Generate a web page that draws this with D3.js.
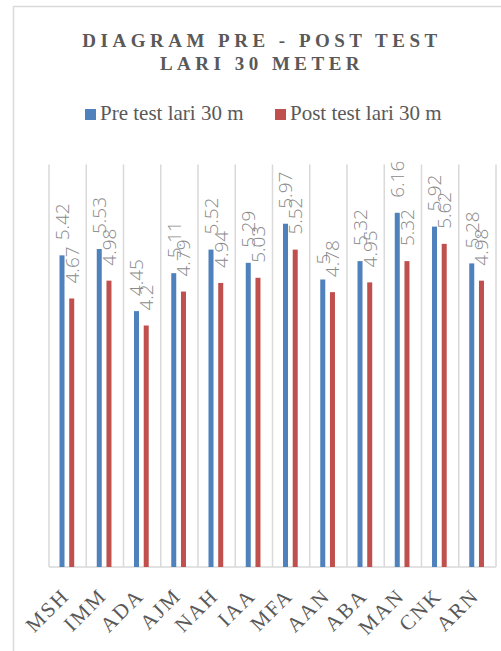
<!DOCTYPE html>
<html>
<head>
<meta charset="utf-8">
<script src="https://cdn.jsdelivr.net/npm/d3@7"></script>
<style>
  html, body { margin: 0; padding: 0; background: #ffffff; }
  svg { display: block; }
</style>
</head>
<body>
<svg id="chart" width="501" height="651"></svg>
<script>
// Participants (initials)
const categories = ["MSH", "IMM", "ADA", "AJM", "NAH", "IAA", "MFA", "AAN", "ABA", "MAN", "CNK", "ARN"];
// Series names
const seriesNames = ["Pre test lari 30 m", "Post test lari 30 m"];
// 30 m sprint times (seconds)
const preTest  = [5.42, 5.53, 4.45, 5.11, 5.52, 5.29, 5.97, 5, 5.32, 6.16, 5.92, 5.28];
const postTest = [4.67, 4.98, 4.2, 4.79, 4.94, 5.03, 5.52, 4.78, 4.95, 5.32, 5.62, 4.98];
const seriesColors = ["#4f81bd", "#c0504d"];
const titleLines = ["DIAGRAM PRE - POST TEST", "LARI 30 METER"];
const yDomain = [0, 7];

const svg = d3.select("#chart");
const textGray = "#595959";
const gridGray = "#d9d9d9";

// Outer chart frame
svg.append("rect")
  .attr("x", 13.5).attr("y", 6.5)
  .attr("width", 520).attr("height", 700)
  .attr("fill", "none")
  .attr("stroke", gridGray)
  .attr("stroke-width", 1.5);

// Title
const title = svg.append("text")
  .attr("text-anchor", "middle")
  .attr("font-family", "'Liberation Serif', 'Times New Roman', serif")
  .attr("font-weight", "bold")
  .attr("font-size", 19)
  .attr("letter-spacing", 4.5)
  .attr("fill", textGray);
title.selectAll("tspan").data(titleLines).join("tspan")
  .attr("x", 262)
  .attr("y", (d, i) => 47 + i * 23)
  .text(d => d);

// Legend
const legendItems = [
  { name: seriesNames[0], color: seriesColors[0], x: 85 },
  { name: seriesNames[1], color: seriesColors[1], x: 275 }
];
const legend = svg.append("g");
const li = legend.selectAll("g").data(legendItems).join("g")
  .attr("transform", d => `translate(${d.x},0)`);
li.append("rect")
  .attr("x", 0).attr("y", 109)
  .attr("width", 11).attr("height", 11)
  .attr("fill", d => d.color);
li.append("text")
  .attr("x", 15).attr("y", 120)
  .attr("font-family", "'Liberation Serif', 'Times New Roman', serif")
  .attr("font-size", 21)
  .attr("fill", textGray)
  .text(d => d.name);

// Plot area
const plot = { left: 49, right: 496, top: 164.5, bottom: 567 };

const x0 = d3.scaleBand()
  .domain(categories)
  .range([plot.left, plot.right])
  .paddingInner(0).paddingOuter(0);

const bw = x0.bandwidth();
const x1 = d3.scaleBand()
  .domain(seriesNames)
  .range([bw * 0.282, bw * 0.677])
  .paddingInner(0.485).paddingOuter(0);

const y = d3.scaleLinear().domain(yDomain).range([plot.bottom, plot.top]);

// Vertical category gridlines
const gridX = categories.map(c => x0(c)).concat([plot.right]);
svg.append("g").selectAll("line").data(gridX).join("line")
  .attr("x1", d => d).attr("x2", d => d)
  .attr("y1", y(yDomain[1])).attr("y2", plot.bottom)
  .attr("stroke", gridGray)
  .attr("stroke-width", 1.5);

// Baseline
svg.append("line")
  .attr("x1", plot.left).attr("x2", plot.right)
  .attr("y1", plot.bottom).attr("y2", plot.bottom)
  .attr("stroke", gridGray)
  .attr("stroke-width", 1.5);

// Bars
const rows = categories.map((c, i) => ({
  cat: c,
  vals: [
    { s: seriesNames[0], v: preTest[i], color: seriesColors[0] },
    { s: seriesNames[1], v: postTest[i], color: seriesColors[1] }
  ]
}));

const groups = svg.append("g").selectAll("g").data(rows).join("g")
  .attr("transform", d => `translate(${x0(d.cat)},0)`);

groups.selectAll("rect").data(d => d.vals).join("rect")
  .attr("x", d => x1(d.s))
  .attr("width", x1.bandwidth())
  .attr("y", d => y(d.v))
  .attr("height", d => y(0) - y(d.v))
  .attr("fill", d => d.color);

// Value labels (rotated)
groups.selectAll("text").data(d => d.vals).join("text")
  .attr("transform", d => `translate(${x1(d.s) + x1.bandwidth() / 2},${y(d.v) - 15}) rotate(-90)`)
  .attr("dy", "0.36em")
  .attr("text-anchor", "start")
  .attr("font-family", "'Open Sans', 'Noto Sans', sans-serif")
  .attr("font-weight", 300)
  .attr("font-size", 19)
  .attr("fill", "#8a8a8a")
  .text(d => d3.format("")(d.v));

// Category axis labels
svg.append("g").selectAll("text").data(categories).join("text")
  .attr("transform", d => `translate(${x0(d) + bw / 2 + 3},${plot.bottom + 30}) rotate(-45)`)
  .attr("text-anchor", "end")
  .attr("font-family", "'Liberation Serif', 'Times New Roman', serif")
  .attr("font-size", 21)
  .attr("letter-spacing", 2)
  .attr("fill", textGray)
  .text(d => d);
</script>
</body>
</html>
